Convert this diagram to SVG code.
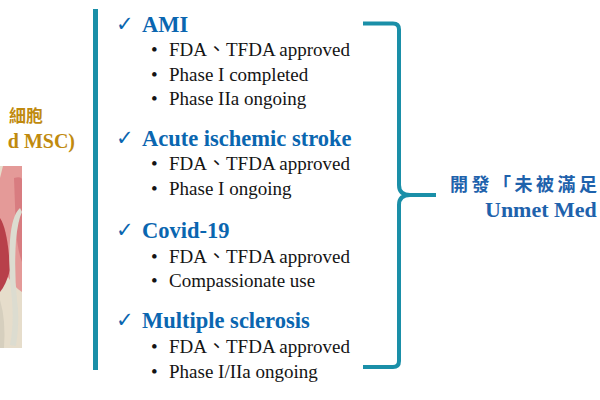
<svg xmlns="http://www.w3.org/2000/svg" width="600" height="400" viewBox="0 0 600 400">
<style>
.head{font-family:"Liberation Serif","Noto Sans CJK TC",serif;font-weight:bold;font-size:22.5px;fill:#0A66B0}
.chk{font-family:"DejaVu Sans",sans-serif;font-weight:bold;font-size:21px;fill:#0A66B0}
.item{font-family:"Liberation Serif","Noto Sans CJK TC",serif;font-size:19px;fill:#141414}
.goldzh{font-family:"Noto Sans CJK TC",serif;font-weight:bold;font-size:17px;fill:#C08A0E}
.golden{font-family:"Liberation Serif",serif;font-weight:bold;font-size:20px;fill:#C08A0E}
.bluezh{font-family:"Noto Sans CJK TC",serif;font-weight:bold;font-size:18px;letter-spacing:3.5px;fill:#1E62AC}
.blueen{font-family:"Liberation Serif",serif;font-weight:bold;font-size:22px;fill:#1E62AC}
</style>
<rect width="600" height="400" fill="#ffffff"/>
<g id="photo">
<rect x="0" y="166" width="22" height="182" fill="#E6DDCB"/>
<path d="M3,166 H22 V292 Q14,287 8,277 Q2,257 0,242 V178 Z" fill="#E49A98"/>
<path d="M0,218 Q8,230 10,270 Q6,285 0,292 Z" fill="#B8404A"/>
<path d="M14,178 Q22,176 22,180 V262 Q18,252 16,232 Z" fill="#D87C80"/>
<path d="M20,208 Q12,215 10,240 Q8,270 12,300 Q14,325 10,345 L16,346 Q20,320 17,300 Q14,270 16,240 Q18,220 22,212 Z" fill="#DCDCD0"/>
<path d="M0,300 Q6,320 4,348 H0 Z" fill="#D6CFBE"/>
</g>
<g id="title-left">
<text class="goldzh" x="43" y="122" text-anchor="end">細胞</text>
<text class="golden" x="75" y="148" text-anchor="end">d MSC)</text>
</g>
<rect id="bar" x="93" y="9" width="5" height="361" fill="#1A8FA8"/>
<g id="ami">
<text class="chk" x="116" y="31">✓</text>
<text class="head" x="142" y="32">AMI</text>
<text class="item" x="151" y="56">•</text>
<text class="item" x="169" y="56">FDA、TFDA approved</text>
<text class="item" x="151" y="81">•</text>
<text class="item" x="169" y="81">Phase I completed</text>
<text class="item" x="151" y="105">•</text>
<text class="item" x="169" y="105">Phase IIa ongoing</text>
</g>
<g id="stroke">
<text class="chk" x="116" y="145">✓</text>
<text class="head" x="142" y="146">Acute ischemic stroke</text>
<text class="item" x="151" y="170">•</text>
<text class="item" x="169" y="170">FDA、TFDA approved</text>
<text class="item" x="151" y="195">•</text>
<text class="item" x="169" y="195">Phase I ongoing</text>
</g>
<g id="covid">
<text class="chk" x="116" y="237">✓</text>
<text class="head" x="142" y="238">Covid-19</text>
<text class="item" x="151" y="263">•</text>
<text class="item" x="169" y="263">FDA、TFDA approved</text>
<text class="item" x="151" y="287">•</text>
<text class="item" x="169" y="287">Compassionate use</text>
</g>
<g id="ms">
<text class="chk" x="116" y="327">✓</text>
<text class="head" x="142" y="328">Multiple sclerosis</text>
<text class="item" x="151" y="353">•</text>
<text class="item" x="169" y="353">FDA、TFDA approved</text>
<text class="item" x="151" y="378">•</text>
<text class="item" x="169" y="378">Phase I/IIa ongoing</text>
</g>
<g id="connectors">
<path d="M363,23.5 H393 Q399,23.5 399,29.5 V185 Q399,195 410,195 H436 M410,195 Q399,195 399,205 V361 Q399,367 393,367 H363" fill="none" stroke="#1A8FA8" stroke-width="4"/>
</g>
<g id="title-right">
<text class="bluezh" x="450" y="191">開發「未被滿足</text>
<text class="blueen" x="485" y="217">Unmet Med</text>
</g>
</svg>
